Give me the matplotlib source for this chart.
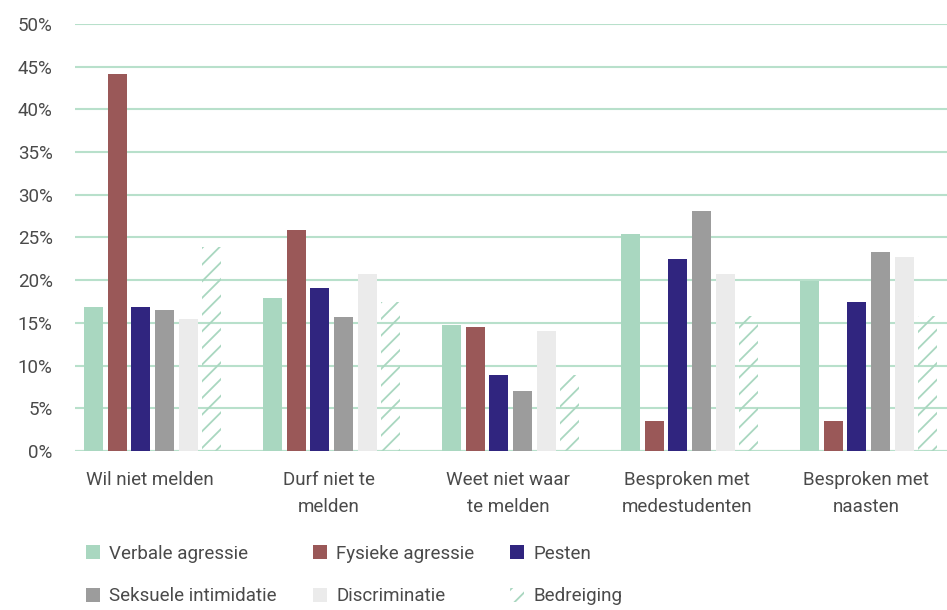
import matplotlib
matplotlib.use("Agg")
import matplotlib.pyplot as plt
import numpy as np
from matplotlib.patches import Patch

categories = ["Wil niet melden", "Durf niet te\nmelden", "Weet niet waar\nte melden",
              "Besproken met\nmedestudenten", "Besproken met\nnaasten"]
series_names = ["Verbale agressie", "Fysieke agressie", "Pesten",
                "Seksuele intimidatie", "Discriminatie", "Bedreiging"]
verbale = [16.9, 17.9, 14.8, 25.4, 19.9]
fysieke = [44.1, 25.9, 14.5, 3.5, 3.5]
pesten = [16.9, 19.1, 8.9, 22.5, 17.4]
seksuele = [16.5, 15.7, 7.0, 28.1, 23.3]
discriminatie = [15.5, 20.7, 14.0, 20.7, 22.7]
bedreiging = [23.9, 17.4, 8.9, 15.8, 15.8]
yticks = [0, 5, 10, 15, 20, 25, 30, 35, 40, 45, 50]

colors = ["#a9d7c0", "#9a5858", "#30257f", "#9c9c9c", "#ebebeb"]
mint = "#a9d7c0"
grid_col = "#b8e0cb"
text_col = "#4a4a4a"

plt.rcParams['font.family'] = ['Roboto', 'DejaVu Sans']
plt.rcParams['hatch.linewidth'] = 1.3

fig = plt.figure(figsize=(9.47, 6.10), dpi=100)
ax = fig.add_axes([75/947, 159/610, 872/947, 427/610])

x = np.arange(len(categories))
pitch = 0.1324
width = 0.106
allvals = [verbale, fysieke, pesten, seksuele, discriminatie]
handles = []
for i, (vals, c) in enumerate(zip(allvals, colors)):
    ax.bar(x + (i - 2.5) * pitch + 0.015, vals, width=width, color=c, linewidth=0, zorder=3)
    handles.append(Patch(facecolor=c, edgecolor='none', label=series_names[i]))
ax.bar(x + 2.5 * pitch + 0.015, bedreiging, width=width, facecolor='none', edgecolor=mint,
       hatch='//', linewidth=0, zorder=3)
handles.append(Patch(facecolor='none', edgecolor=mint, hatch='//', linewidth=0,
                     label=series_names[5]))

ax.set_xlim(-0.419, 4.453)
ax.set_ylim(0, 50)
ax.set_yticks(yticks)
ax.set_yticklabels([f"{v}%" for v in yticks], fontsize=13.5)
ax.set_xticks(x)
ax.set_xticklabels(categories, linespacing=1.6, fontsize=13.5)
for s in ax.spines.values():
    s.set_visible(False)
ax.tick_params(axis='both', length=0, colors=text_col)
ax.tick_params(axis='y', pad=16)
ax.tick_params(axis='x', pad=14.5)
ax.grid(axis='y', color=grid_col, linewidth=1.5, zorder=0)
ax.set_axisbelow(True)
ax.axhline(0, color=grid_col, linewidth=1.5, zorder=1)

order = [0, 3, 1, 4, 2, 5]
leg = fig.legend(handles=[handles[k] for k in order], ncol=3, loc='upper left',
                 bbox_to_anchor=(69/947, 1 - 528/610), frameon=False,
                 fontsize=13.5, handlelength=0.75, handleheight=0.75,
                 handletextpad=0.5, columnspacing=1.9, labelspacing=1.3,
                 labelcolor=text_col)

fig.savefig("out.png", dpi=100, facecolor='white')
